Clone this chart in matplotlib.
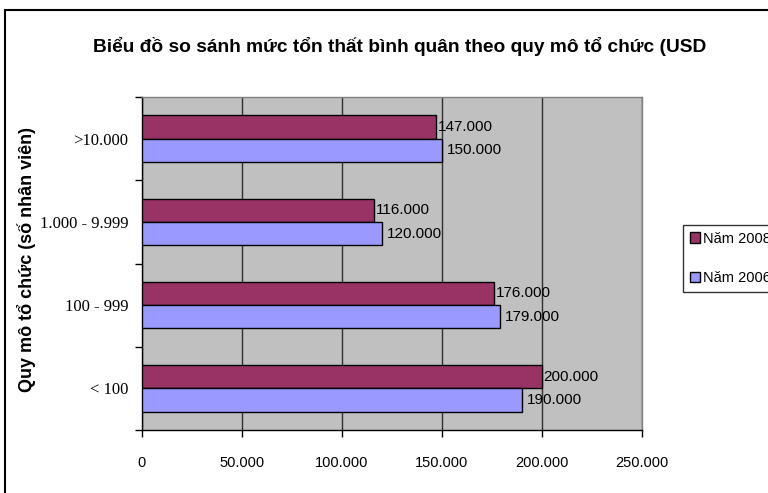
import numpy as np
import matplotlib
matplotlib.use("Agg")
import matplotlib.pyplot as plt
from matplotlib.patches import Rectangle, Patch

# Average loss by organisation size (USD)
categories = ["< 100", "100 - 999", "1.000 - 9.999", ">10.000"]
loss_2008 = [200000, 176000, 116000, 147000]
loss_2006 = [190000, 179000, 120000, 150000]
series_names = ["Năm 2008", "Năm 2006"]
x_ticks = [0, 50000, 100000, 150000, 200000, 250000]

COLOR_2008 = "#993366"
COLOR_2006 = "#9999FF"
PLOT_BG = "#C0C0C0"


def fmt_vn(v):
    # thousands separated with dots
    return f"{v:,.0f}".replace(",", ".")


W, H = 768, 493
fig = plt.figure(figsize=(W / 100, H / 100), dpi=100)
fig.patch.set_facecolor("white")

# outer chart frame, runs past the right and bottom edges
fig.add_artist(Rectangle((5 / W, -0.2), 1.2, 1.2 - 10 / H, transform=fig.transFigure,
                         fill=False, edgecolor="black", linewidth=1.5, clip_on=False))

ax = fig.add_axes([142 / W, 63 / H, 500 / W, 333 / H])
ax.set_facecolor(PLOT_BG)

y = np.arange(len(categories))
bh = 0.28
ax.barh(y + bh / 2, loss_2008, height=bh, color=COLOR_2008,
        edgecolor="black", linewidth=1, zorder=3)
ax.barh(y - bh / 2, loss_2006, height=bh, color=COLOR_2006,
        edgecolor="black", linewidth=1, zorder=3)

for yi, v in zip(y + bh / 2, loss_2008):
    ax.text(v + 800, yi, fmt_vn(v), va="center", ha="left",
            fontsize=11, family="Liberation Sans", zorder=4)
for yi, v in zip(y - bh / 2, loss_2006):
    ax.text(v + 2200, yi, fmt_vn(v), va="center", ha="left",
            fontsize=11, family="Liberation Sans", zorder=4)

ax.set_xlim(0, 250000)
ax.set_ylim(-0.5, len(categories) - 0.5)

ax.set_xticks(x_ticks)
ax.set_xticklabels([fmt_vn(t) for t in x_ticks], family="Liberation Sans", fontsize=10.5)
ax.xaxis.grid(True, color="#303030", linewidth=1, zorder=1)
ax.set_axisbelow(True)
ax.tick_params(axis="x", direction="out", length=5, width=1, pad=14)

ax.set_yticks(y)
ax.set_yticklabels(categories, family="Liberation Serif", fontsize=12)
ax.set_yticks(np.arange(-0.5, len(categories)), minor=True)
ax.tick_params(axis="y", which="major", length=0, pad=10)
ax.tick_params(axis="y", which="minor", direction="out", length=5, width=1)

for side in ("top", "right"):
    ax.spines[side].set_color("#808080")
    ax.spines[side].set_linewidth(1)
for side in ("left", "bottom"):
    ax.spines[side].set_color("black")
    ax.spines[side].set_linewidth(1)

fig.text(400 / W, 1 - 47 / H,
         "Biểu đồ so sánh mức tổn thất bình quân theo quy mô tổ chức (USD",
         ha="center", va="center", fontsize=13.8, fontweight="bold",
         family="Liberation Sans")

fig.text(27 / W, 1 - 259 / H, "Quy mô tổ chức (số nhân viên)",
         rotation=90, ha="center", va="center", fontsize=13,
         fontweight="bold", family="Liberation Sans")

handles = [Patch(facecolor=COLOR_2008, edgecolor="black", linewidth=1),
           Patch(facecolor=COLOR_2006, edgecolor="black", linewidth=1)]
leg = fig.legend(handles, series_names, loc="upper left",
                 bbox_to_anchor=(683 / W, 1 - 225 / H),
                 prop={"family": "Liberation Sans", "size": 10.5},
                 handlelength=0.7, handleheight=0.7, handletextpad=0.25,
                 borderpad=0.45, labelspacing=1.75, borderaxespad=0,
                 frameon=True, fancybox=False)
leg.get_frame().set_edgecolor("black")
leg.get_frame().set_linewidth(1)

fig.savefig("out.png", dpi=100)
